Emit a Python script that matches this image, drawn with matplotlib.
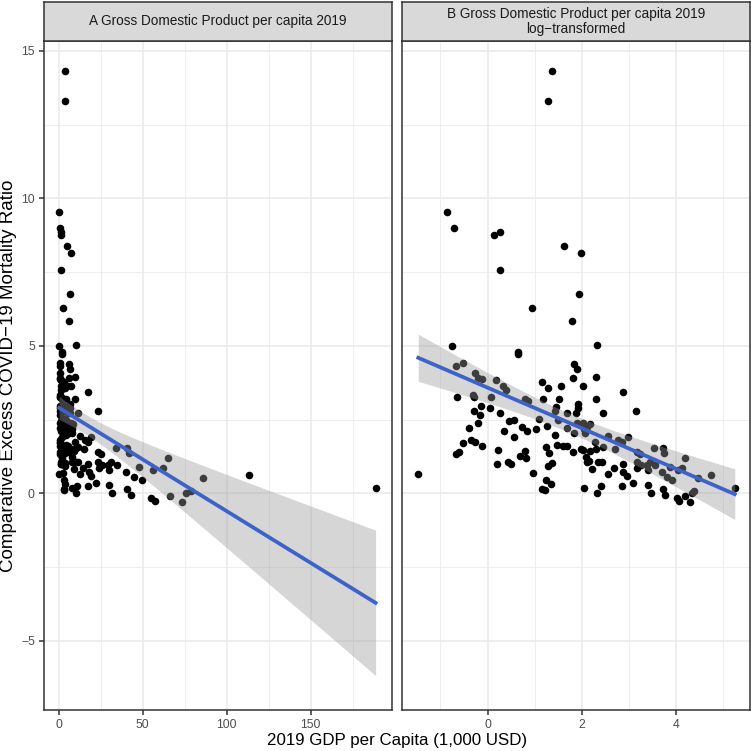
import numpy as np
import matplotlib.pyplot as plt

plt.rcParams['font.family'] = ['Liberation Sans', 'DejaVu Sans']

# log of 2019 GDP per capita (1,000 USD)
gdp_log = [
    -0.87, -0.71, 0.14, 0.26, 0.27, 1.61, 1.98, 1.94, 0.94, 1.78,
    -0.76, 2.32, 0.64, 0.65, -0.68, -0.53, -0.26, -0.12, -0.20, 0.18,
    0.32, 0.39, -0.30, -0.29, -0.64, 0.08, 0.79, 0.86, 1.16, 1.27,
    1.56, 1.83, 1.89, 1.80, 2.02, 2.30, 2.29, 1.17, 1.52, 1.92,
    1.91, -0.13, 0.05, -0.28, 1.46, -0.16, 0.26, -0.20, -0.39, 0.45,
    0.55, 0.72, 0.83, 0.34, 1.03, 1.26, 1.10, 1.42, 1.68, 1.50,
    1.42, 1.68, 1.83, 2.05, 1.89, -0.35, -0.26, -0.12, -0.52, -0.66,
    -0.60, 0.23, 0.20, 0.44, 0.49, 0.57, 0.69, 0.80, 0.81, 1.24,
    1.30, 1.48, 1.59, 1.68, 1.82, 2.02, 2.09, 2.10, 1.27, 1.37,
    0.96, 1.23, 1.34, 1.15, 1.21, 2.05, -1.47, 2.87, 1.88, 2.44,
    3.15, 2.03, 2.17, 2.10, 2.06, 2.56, 2.28, 2.45, 2.76, 2.85,
    2.97, 2.70, 1.99, 2.18, 2.29, 2.14, 2.35, 2.42, 2.21, 2.55,
    2.69, 2.86, 2.88, 2.95, 3.16, 3.23, 3.16, 3.25, 3.17, 3.37,
    3.40, 3.53, 3.71, 3.74, 3.44, 3.55, 3.69, 3.80, 3.90, 3.87,
    4.03, 4.13, 4.18, 4.45, 4.73, 5.24, 4.37, 4.33, 2.31, 2.40,
    2.85, 3.09, 3.39, 3.46, 3.71, 3.76, 4.01, 4.19, 4.05, 4.30,
    1.36, 1.28,
]

excess_ratio = [
    9.53, 9.00, 8.77, 8.87, 7.56, 8.38, 8.15, 6.76, 6.28, 5.84,
    4.99, 5.02, 4.78, 4.73, 4.31, 4.42, 4.07, 3.87, 3.90, 3.83,
    3.64, 3.50, 3.35, 3.26, 3.26, 3.27, 3.20, 3.14, 3.77, 3.58,
    3.65, 4.39, 4.20, 3.90, 3.65, 3.94, 3.19, 3.19, 3.19, 3.03,
    2.91, 2.96, 2.88, 2.80, 2.94, 2.65, 2.71, 2.38, 2.21, 2.46,
    2.49, 2.26, 2.11, 2.12, 2.17, 2.27, 2.52, 2.80, 2.71, 2.49,
    1.98, 2.21, 2.05, 2.17, 2.39, 1.82, 1.74, 1.62, 1.70, 1.34,
    1.40, 1.48, 0.99, 1.06, 0.99, 1.92, 1.28, 1.45, 1.21, 1.58,
    1.36, 1.63, 1.62, 1.62, 1.41, 1.47, 1.25, 1.07, 0.92, 1.02,
    0.69, 0.45, 0.33, 0.14, 0.12, 0.19, 0.66, 3.45, 2.72, 2.73,
    2.79, 2.38, 2.35, 2.26, 2.04, 1.94, 1.75, 1.58, 1.81, 1.75,
    1.90, 1.49, 1.51, 1.45, 1.49, 1.11, 1.08, 1.06, 0.83, 0.65,
    0.86, 1.00, 0.74, 0.60, 1.41, 1.32, 1.08, 0.96, 0.85, 0.96,
    0.79, 1.54, 1.55, 1.36, 1.08, 0.96, 0.74, 0.57, 0.45, 0.91,
    0.79, 0.87, 1.20, 0.53, 0.62, 0.19, 0.08, 0.00, 0.00, 0.26,
    0.26, 0.34, 0.28, 0.02, 0.16, -0.05, -0.17, -0.09, -0.25, -0.30,
    14.31, 13.28,
]

strip_titles = ['A Gross Domestic Product per capita 2019',
                'B Gross Domestic Product per capita 2019\nlog\u2212transformed']

x_log = np.array(gdp_log)
x_raw = np.exp(x_log)
y = np.array(excess_ratio)


def lm_band(x, y, n_grid=80):
    # linear fit with 95% confidence band, like geom_smooth(method = "lm")
    n = len(x)
    b, a = np.polyfit(x, y, 1)
    resid = y - (a + b * x)
    s = np.sqrt(np.sum(resid ** 2) / (n - 2))
    xm = x.mean()
    sxx = np.sum((x - xm) ** 2)
    xs = np.linspace(x.min(), x.max(), n_grid)
    fit = a + b * xs
    se = s * np.sqrt(1 / n + (xs - xm) ** 2 / sxx)
    t = 1.975
    return xs, fit, fit - t * se, fit + t * se


W = 751
fig = plt.figure(figsize=(7.51, 7.51), dpi=100)

bottom = (W - 710) / W
height = 669 / W
panels = [
    (43.7 / W, 348.6 / W, x_raw, (-8.93, 198.6), [0, 50, 100, 150], [25, 75, 125, 175]),
    (402 / W, 348 / W, x_log, (-1.815, 5.563), [0, 2, 4], [-1, 1, 3, 5]),
]

border = '#333333'
for i, (left, width, xv, xlim, xmaj, xmin) in enumerate(panels):
    ax = fig.add_axes([left, bottom, width, height])
    ax.set_xlim(*xlim)
    ax.set_ylim(-7.34, 15.33)
    ax.set_xticks(xmaj)
    ax.set_xticks(xmin, minor=True)
    ax.set_yticks([-5, 0, 5, 10, 15])
    ax.set_yticks([-2.5, 2.5, 7.5, 12.5], minor=True)
    ax.grid(True, which='major', color='#EBEBEB', linewidth=1.2, zorder=0)
    ax.grid(True, which='minor', color='#EBEBEB', linewidth=0.6, zorder=0)
    ax.set_axisbelow(True)
    for sp in ax.spines.values():
        sp.set_color(border)
        sp.set_linewidth(1.1)
        sp.set_zorder(10)
    ax.tick_params(which='major', length=3.6, width=1.1, color=border,
                   labelcolor='#4D4D4D', labelsize=8.8, pad=2.8)
    ax.tick_params(which='minor', length=0)
    if i == 1:
        ax.tick_params(axis='y', which='major', length=0, labelleft=False)

    ax.scatter(xv, y, s=30, color='black', linewidths=0, zorder=2)
    xs, fit, lo, hi = lm_band(xv, y)
    ax.fill_between(xs, lo, hi, color='#999999', alpha=0.4, linewidth=0, zorder=3)
    ax.plot(xs, fit, color='#3D62C8', linewidth=2.7, zorder=4)

    sax = fig.add_axes([left, (W - 41) / W, width, 39.5 / W])
    sax.set_facecolor('#D9D9D9')
    sax.set_xticks([])
    sax.set_yticks([])
    for sp in sax.spines.values():
        sp.set_color(border)
        sp.set_linewidth(1.1)
    sax.text(0.5, 0.5, strip_titles[i], ha='center', va='center',
             fontsize=9.8, color='#1A1A1A', linespacing=1.1,
             transform=sax.transAxes)

fig.text(9 / W, 1 - 375.5 / W, 'Comparative Excess COVID\u221219 Mortality Ratio',
         rotation=90, ha='center', va='center', fontsize=13.5, color='black')
fig.text(397 / W, 1 - 740 / W, '2019 GDP per Capita (1,000 USD)',
         ha='center', va='center', fontsize=12.2, color='black')

fig.savefig('out.png', dpi=100)
